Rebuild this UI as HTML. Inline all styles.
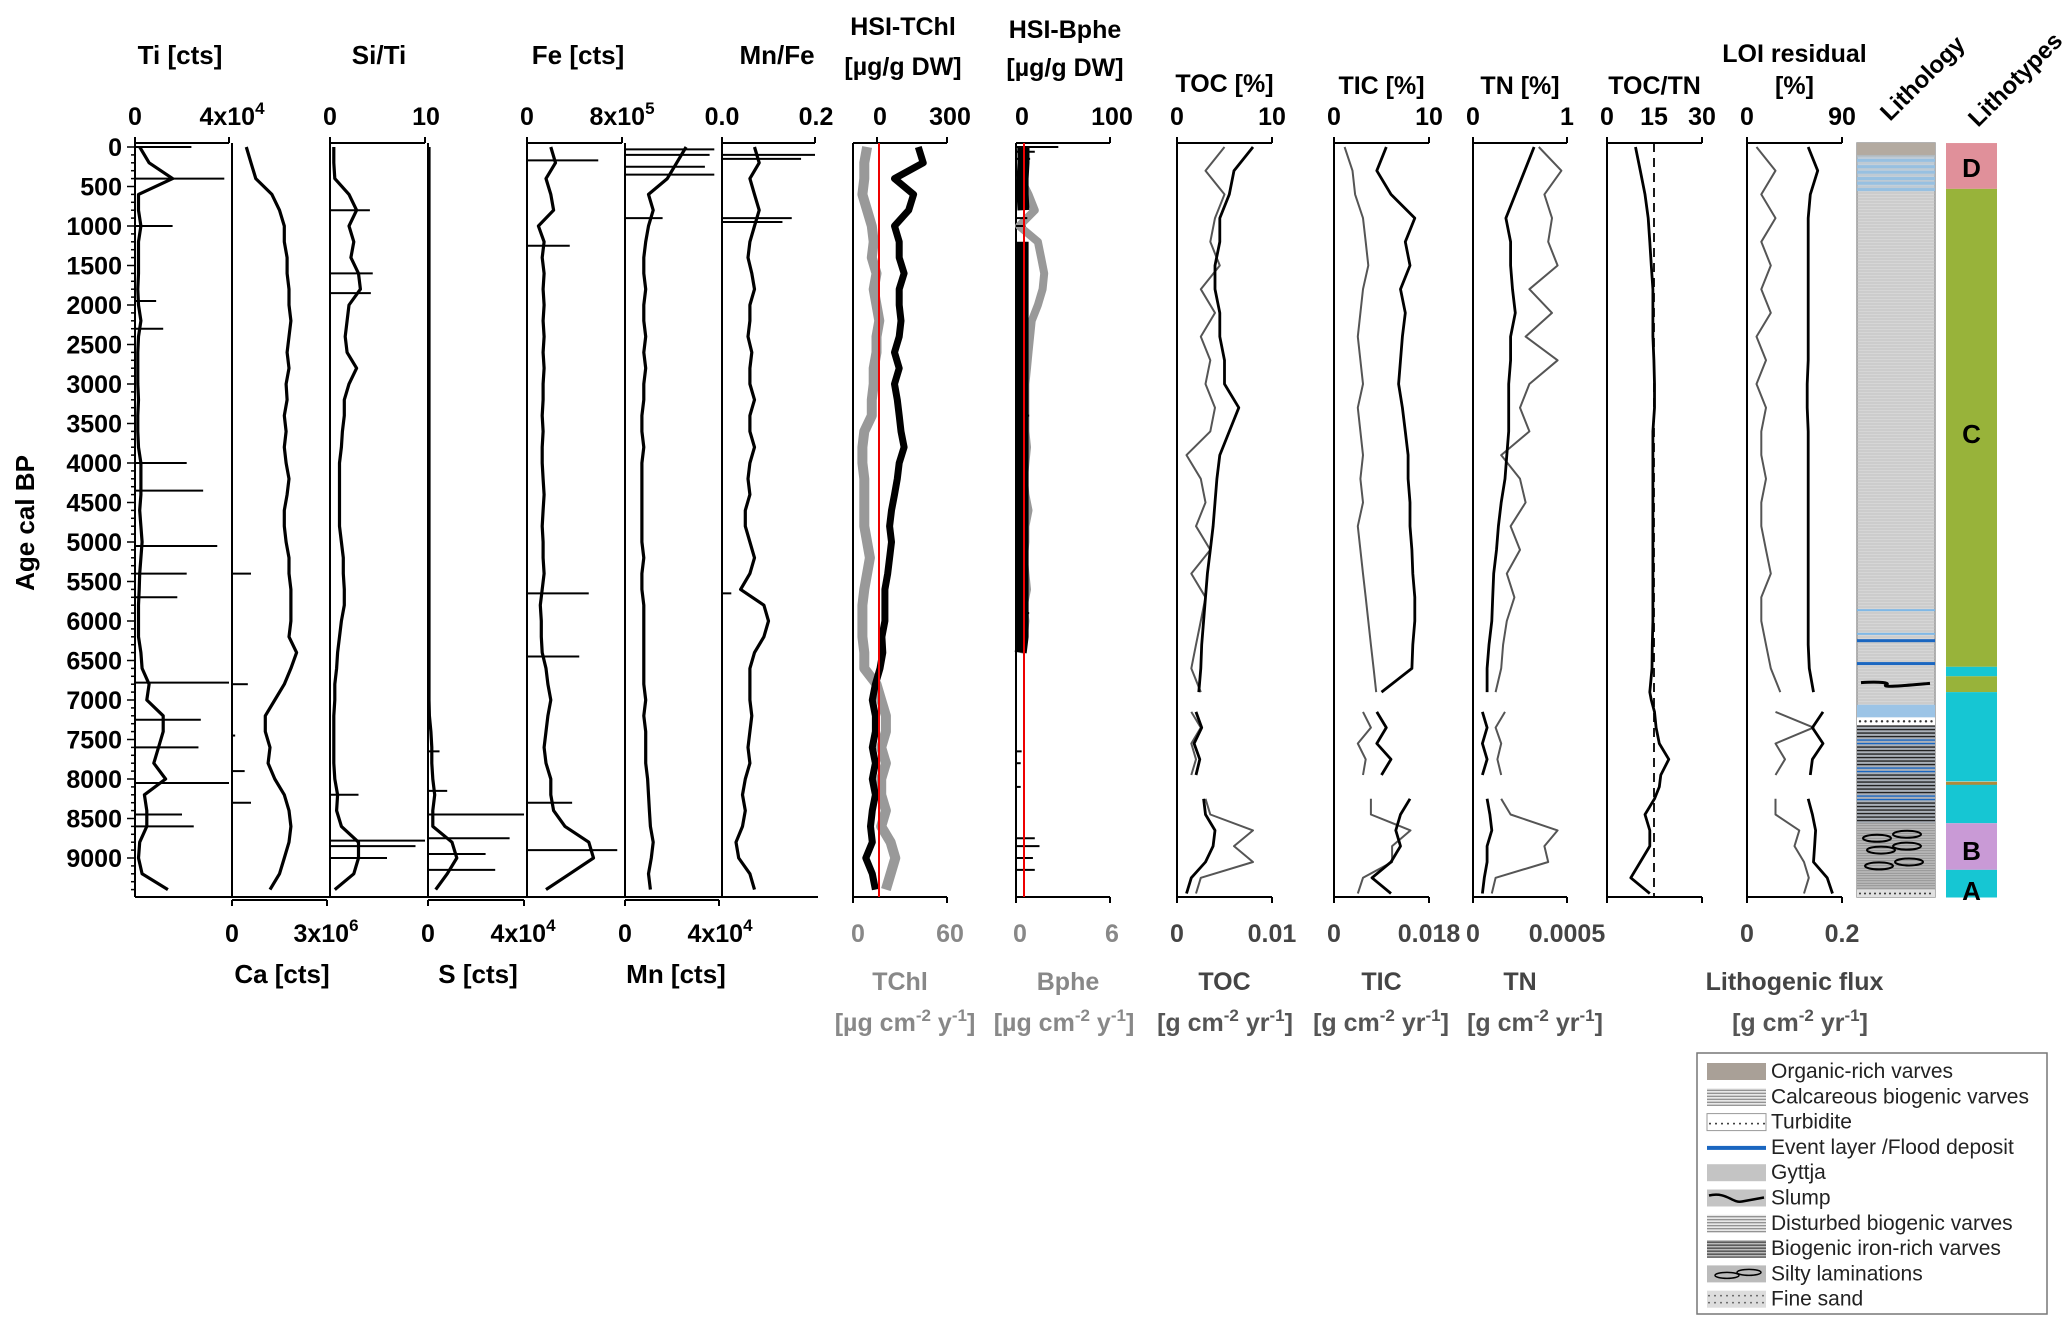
<!DOCTYPE html>
<html><head><meta charset="utf-8"><style>
html,body{margin:0;padding:0;background:#fff}
svg{display:block}
text{font-family:"Liberation Sans",Arial,sans-serif}
</style></head><body>
<svg id="chart" width="2067" height="1340" viewBox="0 0 2067 1340" xmlns="http://www.w3.org/2000/svg">
<rect x="0" y="0" width="2067" height="1340" fill="#fff"/>
<g id="root"></g>
</svg>
<script>
// ---- shared age grid (cal BP) ----
const ageGrid = [0,200,400,600,800,1000,1200,1400,1600,1800,2000,2200,2400,2600,2800,3000,3200,3400,3600,3800,4000,4200,4400,4600,4800,5000,5200,5400,5600,5800,6000,6200,6400,6600,6800,7000,7200,7400,7600,7800,8000,8200,8400,8600,8800,9000,9200,9400];
const yTicks = [0,500,1000,1500,2000,2500,3000,3500,4000,4500,5000,5500,6000,6500,7000,7500,8000,8500,9000];
// XRF series
const tiVals = [2000,6000,16000,1500,1500,2500,1500,1500,1500,1200,1500,2500,1500,1200,1200,1200,1500,1200,1200,1500,2500,2500,2500,2000,2500,3000,2500,2000,1800,1500,1500,1500,2500,3000,6000,5000,12000,12000,10000,8000,13000,4000,5000,5000,2000,1500,3000,14000];
const tiSpikeAge = [0,400,1000,1950,2300,4000,4350,5050,5400,5700,6780,7250,7600,8050,8450,8600];
const tiSpikeVal = [24000,38000,16000,9000,12000,22000,29000,35000,22000,18000,40000,28000,27000,40000,20000,25000];
const caVals = [0.45e6,0.6e6,0.75e6,1.26e6,1.5e6,1.65e6,1.65e6,1.74e6,1.74e6,1.8e6,1.8e6,1.86e6,1.8e6,1.74e6,1.8e6,1.71e6,1.74e6,1.65e6,1.71e6,1.65e6,1.71e6,1.8e6,1.74e6,1.65e6,1.65e6,1.71e6,1.8e6,1.8e6,1.86e6,1.86e6,1.86e6,1.8e6,2.04e6,1.86e6,1.65e6,1.35e6,1.05e6,1.05e6,1.2e6,1.14e6,1.35e6,1.65e6,1.8e6,1.86e6,1.8e6,1.65e6,1.5e6,1.2e6];
const caSpikeAge = [5400,6800,7450,7900,8300];
const caSpikeVal = [0.6e6,0.5e6,0.1e6,0.4e6,0.6e6];
const siTiVals = [0.4,0.4,0.5,2.0,2.8,2.0,2.5,2.2,3.0,3.2,2.0,1.8,1.6,1.8,2.8,2.0,1.5,1.5,1.3,1.2,1.0,1.0,1.0,1.0,1.0,1.2,1.4,1.4,1.5,1.5,1.2,1.0,0.8,0.7,0.5,0.5,0.4,0.4,0.4,0.4,0.5,0.8,0.7,1.2,3.0,3.0,2.5,0.5];
const siTiSpikeAge = [800,1600,1850,8200,8780,8850,9000];
const siTiSpikeVal = [4.2,4.5,4.3,3.0,10,9,6];
const sVals = [400,400,400,400,400,400,400,400,400,400,400,400,400,400,400,400,400,400,400,400,400,400,400,400,400,400,400,400,400,400,400,400,400,400,400,400,600,1200,1600,1600,2000,2800,2000,2000,10000,12000,8000,3200];
const sSpikeAge = [7650,8150,8450,8750,8950,9150];
const sSpikeVal = [4800,8000,40000,34000,24000,28000];
const feVals = [2.0e5,2.4e5,1.6e5,2.0e5,2.24e5,0.96e5,1.44e5,1.28e5,1.44e5,1.36e5,1.44e5,1.36e5,1.44e5,1.36e5,1.44e5,1.36e5,1.36e5,1.28e5,1.36e5,1.28e5,1.28e5,1.36e5,1.44e5,1.36e5,1.28e5,1.36e5,1.36e5,1.44e5,1.28e5,1.12e5,1.2e5,1.2e5,1.28e5,1.6e5,1.76e5,2.0e5,1.76e5,1.6e5,1.44e5,1.6e5,2.0e5,2.0e5,2.24e5,3.2e5,5.2e5,5.6e5,3.6e5,1.6e5];
const feSpikeAge = [170,1250,5650,6450,8300,8900];
const feSpikeVal = [6.0e5,3.6e5,5.2e5,4.4e5,3.8e5,7.6e5];
const mnVals = [26000,22000,18000,10000,12000,10000,8800,8000,8000,8800,8000,8000,8800,8000,8800,8000,8000,7200,7200,8000,7200,7200,7200,7200,7200,7200,8000,7200,7200,8000,8000,8000,8000,8000,8000,8800,8000,8800,8800,8800,9600,10000,10400,10800,12000,11200,10000,10800];
const mnSpikeAge = [30,100,250,350,900];
const mnSpikeVal = [38000,36000,34000,38000,16000];
const mnFeVals = [0.07,0.08,0.06,0.07,0.08,0.07,0.06,0.056,0.064,0.07,0.06,0.06,0.056,0.064,0.06,0.06,0.07,0.06,0.06,0.07,0.06,0.056,0.06,0.05,0.05,0.06,0.07,0.06,0.04,0.09,0.1,0.09,0.07,0.06,0.06,0.06,0.064,0.06,0.056,0.06,0.05,0.044,0.05,0.044,0.03,0.036,0.06,0.07];
const mnFeSpikeAge = [100,150,900,950,5650];
const mnFeSpikeVal = [0.2,0.17,0.15,0.13,0.02];
// HSI series
const tchlHsiVals = [177,198,75,157,136,75,95,95,116,95,95,103,95,75,95,75,87,95,103,116,95,87,75,62,54,62,54,46,34,34,34,21,25,13,-7,-20,-7,-7,-20,-7,-20,-7,-20,-28,-20,-48,-20,-7];
const tchlFluxVals = [9,7.2,7.2,6,9,12,13.2,12,15,13.2,15,16.8,15,15,13.2,13.2,12,12,7.2,6,6,7.2,7.2,7.2,7.2,9,10.8,9,7.2,6,6,6,7.2,7.2,15,18,21,21,18,21,18,18,21,18,24,27,24,21];
const bpheHsiVals = [8,8,7,7,8,null,7,7,7,7,7,7,7,7,7,7,7,7,7,7,7,7,7,7,7,7,7,7,7,7,7,7,5,null,null,null,null,null,null,null,null,null,null,null,null,null,null,null];
const bpheFluxVals = [0.3,0.4,0.3,0.8,1.2,0.2,1.4,1.6,1.8,1.7,1.4,1.0,0.9,0.8,0.7,0.6,0.6,0.6,0.6,0.7,0.6,0.5,0.6,0.8,0.6,0.6,0.5,0.6,0.7,0.5,0.6,0.5,0.2,null,null,null,null,null,null,null,null,null,null,null,null,null,null,null];
const bpheSpikeAge = [0,60,150,350,900,1000,1800,2300,3400,4200,5300,5900,7650,7800,8100,8750,8850,9000,9150];
const bpheSpikeVal = [45,20,15,10,12,10,6,12,14,8,12,14,6,5,5,20,25,18,20];
// Lab series
const labAge = [0,300,600,900,1200,1500,1800,2100,2400,2700,3000,3300,3600,3900,4200,4500,4800,5100,5400,5700,6000,6300,6600,6900,7000,7150,7350,7550,7750,7950,8100,8250,8450,8650,8850,9050,9250,9450];
const tocVals = [8,6,5.5,4.5,4.5,4,4,4.5,4.5,5,5,6.5,5.5,4.5,4.2,4,3.8,3.5,3.2,3,2.8,2.6,2.5,2.3,null,2,2.6,1.8,2.4,2,null,2.8,3,4,3.8,3,1.5,1];
const tocFluxVals = [0.005,0.003,0.005,0.004,0.0035,0.0045,0.0025,0.004,0.0025,0.0035,0.003,0.004,0.0035,0.001,0.0025,0.003,0.002,0.0035,0.0015,0.003,0.0025,0.002,0.0015,0.0025,null,0.0015,0.0025,0.0015,0.002,0.0015,null,0.003,0.0035,0.008,0.006,0.008,0.0025,0.002];
const ticVals = [5.5,4.5,6,8.5,7.5,8,7,7.5,7.2,7,6.8,7.2,7.5,7.8,7.8,8,8,8.2,8.3,8.5,8.5,8.3,8.2,5,null,4.5,5.5,4.5,6,5,null,8,7,6.5,7,6,4,6];
const ticFluxVals = [0.002,0.0035,0.004,0.0055,0.006,0.0065,0.0055,0.005,0.0045,0.005,0.0055,0.0045,0.005,0.0055,0.005,0.0055,0.0045,0.005,0.0055,0.006,0.0065,0.007,0.0075,0.008,null,0.0055,0.007,0.0045,0.006,0.0055,null,0.007,0.007,0.0145,0.011,0.011,0.0055,0.0045];
const tnVals = [0.65,0.55,0.45,0.35,0.4,0.4,0.42,0.45,0.4,0.4,0.38,0.38,0.38,0.36,0.34,0.3,0.27,0.25,0.22,0.21,0.2,0.17,0.15,0.15,null,0.1,0.15,0.1,0.15,0.1,null,0.15,0.18,0.2,0.15,0.15,0.12,0.1];
const tnFluxVals = [0.00035,0.00047,0.00038,0.00042,0.0004,0.00045,0.0003,0.00042,0.00028,0.00045,0.0003,0.00025,0.0003,0.00015,0.00025,0.00028,0.0002,0.00025,0.00018,0.00022,0.00018,0.00016,0.00015,0.00012,null,0.00017,0.00012,0.00015,0.00013,0.00015,null,0.00015,0.0002,0.00045,0.00038,0.0004,0.00012,0.0001];
const tocTnVals = [9,10.5,12,13,13.5,14,14.5,14.5,14.5,14.8,15,15,14.5,14.5,14.5,14.5,14.5,14.5,14.5,14.5,14.5,14.3,14.2,13.5,14,15,15.5,16.5,19.5,17,16.5,15,12,13.5,13.5,10.5,7.5,13.5];
const loiVals = [58,67,60,58,58,58,58,58,58,58,57,57,58,58,58,58,58,58,58,58,58,58,59,63,null,72,62,72,62,60,null,58,62,65,64,63,76,81];
const loiFluxVals = [0.02,0.06,0.03,0.06,0.03,0.05,0.03,0.05,0.02,0.04,0.02,0.04,0.03,0.03,0.04,0.03,0.03,0.04,0.05,0.03,0.03,0.04,0.05,0.07,null,0.06,0.14,0.06,0.08,0.06,null,0.06,0.06,0.11,0.1,0.12,0.13,0.12];
// Lithotype units (age boundaries)
const unitNames = ['D','C','A','C','A','A','B','A'];
const unitTop = [-50,530,6580,6700,6900,8060,8560,9150];
const unitBot = [530,6580,6700,6900,8030,8560,9150,9500];

// ---------- drawing ----------
const NS='http://www.w3.org/2000/svg';
const root=document.getElementById('root');
const Y0=147, PY=0.079, TOP=143, BOT=897;
function yOf(a){return Y0+a*PY;}
function mk(tag,attrs,parent){const e=document.createElementNS(NS,tag);for(const k in attrs)e.setAttribute(k,attrs[k]);(parent||root).appendChild(e);return e;}
function txt(x,y,s,size,anchor,fill,weight){const t=mk('text',{x:x,y:y,'font-size':size,'text-anchor':anchor||'middle','font-weight':weight||'bold',fill:fill||'#000'});t.textContent=s;return t;}
function supTxt(x,y,base,sup,anchor,fill){const t=mk('text',{x:x,y:y,'font-size':25,'text-anchor':anchor||'middle','font-weight':'bold',fill:fill||'#000'});
  const a=mk('tspan',{},t);a.textContent=base;const b=mk('tspan',{dy:-11,'font-size':17},t);b.textContent=sup;return t;}
function xScale(x0,w,mn,mx){return v=>x0+(v-mn)/(mx-mn)*w;}
function series(ages,vals,sx,color,width,name){
  let d='',pen=false;
  for(let i=0;i<ages.length;i++){const v=vals[i];if(v===null||v===undefined){pen=false;continue;}
    d+=(pen?'L':'M')+sx(v).toFixed(1)+' '+yOf(ages[i]).toFixed(1);pen=true;}
  const p=mk('path',{d:d,fill:'none',stroke:color,'stroke-width':width,'stroke-linejoin':'round'});
  
  
  return p;
}
function spikes(ages,vals,sx,base,color,name){
  const g=mk('g',{});
  
  
  for(let i=0;i<ages.length;i++){mk('line',{x1:sx(base),x2:sx(vals[i]),y1:yOf(ages[i]),y2:yOf(ages[i]),stroke:color,'stroke-width':2},g);}
}
function vline(x,y1,y2,w,c){mk('line',{x1:x,x2:x,y1:y1,y2:y2,stroke:c||'#000','stroke-width':w||2});}
function hline(x1,x2,y,w,c){mk('line',{x1:x1,x2:x2,y1:y,y2:y,stroke:c||'#000','stroke-width':w||2});}

// XRF panels
const px=[135,232,330,428,527,625,722,818];
function xrfPanel(i,ages,vals,mn,mx,top,sAge,sVal,name){
  const x0=px[i],w=px[i+1]-px[i];const sx=xScale(x0,w-3,mn,mx);
  vline(x0,TOP,BOT);
  if(top){hline(x0,x0+w-3,TOP);vline(x0,TOP-6,TOP);vline(x0+w-3,TOP-6,TOP);}
  else{hline(x0,x0+w-3,BOT+3);vline(x0,BOT+3,BOT+9);vline(x0+w-3,BOT+3,BOT+9);}
  series(ages,vals,sx,'#000',3.2,name+'-line');
  if(sAge)spikes(sAge,sVal,sx,mn,'#000',name+'-spikes');
}
xrfPanel(0,ageGrid,tiVals,0,40000,true,tiSpikeAge,tiSpikeVal,'ti');
xrfPanel(1,ageGrid,caVals,0,3e6,false,caSpikeAge,caSpikeVal,'ca');
xrfPanel(2,ageGrid,siTiVals,0,10,true,siTiSpikeAge,siTiSpikeVal,'si-ti');
xrfPanel(3,ageGrid,sVals,0,40000,false,sSpikeAge,sSpikeVal,'s');
xrfPanel(4,ageGrid,feVals,0,8e5,true,feSpikeAge,feSpikeVal,'fe');
xrfPanel(5,ageGrid,mnVals,0,40000,false,mnSpikeAge,mnSpikeVal,'mn');
xrfPanel(6,ageGrid,mnFeVals,0,0.2,true,mnFeSpikeAge,mnFeSpikeVal,'mn-fe');
hline(135,818,BOT,2);
// y axis ticks
for(let a=0;a<=9400;a+=100){const maj=a%500===0;hline(maj?127:131,135,yOf(a),1.5);}
yTicks.forEach(a=>{txt(122,yOf(a)+9,String(a),25,'end');});
const yt=txt(0,0,'Age cal BP',26,'middle');yt.setAttribute('transform','translate(34,523) rotate(-90)');

// XRF labels
[['Ti [cts]',180,64],['Si/Ti',379,64],['Fe [cts]',578,64],['Mn/Fe',777,64]].forEach(t=>txt(t[1],t[2],t[0],26));
[['Ca [cts]',282,983],['S [cts]',478,983],['Mn [cts]',676,983]].forEach(t=>txt(t[1],t[2],t[0],26));
txt(135,125,'0',25);supTxt(232,125,'4x10','4');
txt(330,125,'0',25);txt(426,125,'10',25);
txt(527,125,'0',25);supTxt(622,125,'8x10','5');
txt(722,125,'0.0',25);txt(816,125,'0.2',25);
txt(232,942,'0',25);supTxt(326,942,'3x10','6');
txt(428,942,'0',25);supTxt(523,942,'4x10','4');
txt(625,942,'0',25);supTxt(720,942,'4x10','4');

// HSI TChl
(function(){const x0=853,w=94;const sTop=xScale(877,70,0,300),sBot=xScale(x0,w,0,60);
 vline(x0,TOP,BOT);hline(x0,x0+w,TOP);vline(877,TOP-6,TOP);vline(947,TOP-6,TOP);
 hline(x0,x0+w,BOT);vline(x0,BOT,BOT+6);vline(x0+w,BOT,BOT+6);
 series(ageGrid,tchlFluxVals,sBot,'#999',10,'tchl-flux-line');
 series(ageGrid,tchlHsiVals,sTop,'#000',7,'hsi-tchl-line');
 vline(879,TOP,BOT,2,'#e00');
 txt(903,35,'HSI-TChl',25);txt(903,75,'[µg/g DW]',25);
 txt(880,125,'0',25);txt(950,125,'300',25);
 txt(858,942,'0',25,'middle','#888');txt(950,942,'60',25,'middle','#888');
 txt(900,990,'TChl',25,'middle','#888');
})();
// HSI Bphe
(function(){const x0=1016,w=94;const sTop=xScale(x0,w,0,100),sBot=xScale(x0,w,0,6);
 vline(x0,TOP,BOT);hline(x0,x0+w,TOP);vline(x0+w,TOP-6,TOP);
 hline(x0,x0+w,BOT);vline(x0,BOT,BOT+6);vline(x0+w,BOT,BOT+6);
 series(ageGrid,bpheFluxVals,sBot,'#999',8,'bphe-flux-line');
 series(ageGrid,bpheHsiVals,sTop,'#000',12,'hsi-bphe-line');
 spikes(bpheSpikeAge,bpheSpikeVal,sTop,0,'#000','bphe-spikes');
 vline(1024,TOP,BOT,2,'#e00');
 txt(1065,38,'HSI-Bphe',25);txt(1065,76,'[µg/g DW]',25);
 txt(1022,125,'0',25);txt(1112,125,'100',25);
 txt(1020,942,'0',25,'middle','#888');txt(1112,942,'6',25,'middle','#888');
 txt(1068,990,'Bphe',25,'middle','#888');
})();
// units line
(function(){const units=[[905,'[µg cm','-2',' y','-1',']','#888'],[1064,'[µg cm','-2',' y','-1',']','#888'],[1225,'[g cm','-2',' yr','-1',']','#555'],[1381,'[g cm','-2',' yr','-1',']','#555'],[1535,'[g cm','-2',' yr','-1',']','#555'],[1800,'[g cm','-2',' yr','-1',']','#555']];
 units.forEach(u=>{const t=mk('text',{x:u[0],y:1031,'font-size':25,'font-weight':'bold','text-anchor':'middle',fill:u[6]});
  
  const a=mk('tspan',{},t);a.textContent=u[1];const b=mk('tspan',{dy:-10,'font-size':17},t);b.textContent=u[2];
  const c=mk('tspan',{dy:10},t);c.textContent=u[3];const d=mk('tspan',{dy:-10,'font-size':17},t);d.textContent=u[4];
  const e=mk('tspan',{dy:10},t);e.textContent=u[5];});
})();

// Lab panels
function labPanel(x0,w,blk,bmn,bmx,gry,gmn,gmx,name,title,topL,botL,botTitle){
  const sb=xScale(x0,w,bmn,bmx);
  vline(x0,TOP,BOT);hline(x0,x0+w,TOP);vline(x0+w,TOP-6,TOP);vline(x0,TOP-6,TOP);
  hline(x0,x0+w,BOT);vline(x0,BOT,BOT+6);vline(x0+w,BOT,BOT+6);
  if(gry){series(labAge,gry,xScale(x0,w,gmn,gmx),'#555',2,name+'-flux-line');}
  series(labAge,blk,sb,'#000',2.8,name+'-line');
  title.forEach((t,i)=>txt(x0+w/2,t[1],t[0],25));
  txt(x0,125,topL[0],25);txt(x0+w,125,topL[1],25);
  if(botL){txt(x0,942,botL[0],25,'middle','#444');txt(x0+w,942,botL[1],25,'middle','#444');txt(x0+w/2,990,botTitle,25,'middle','#444');}
}
labPanel(1177,95,tocVals,0,10,tocFluxVals,0,0.01,'toc',[['TOC [%]',92]],['0','10'],['0','0.01'],'TOC');
labPanel(1334,95,ticVals,0,10,ticFluxVals,0,0.018,'tic',[['TIC [%]',94]],['0','10'],['0','0.018'],'TIC');
labPanel(1473,94,tnVals,0,1,tnFluxVals,0,0.0005,'tn',[['TN [%]',94]],['0','1'],['0','0.0005'],'TN');
labPanel(1607,95,tocTnVals,0,30,null,0,1,'toc-tn',[['TOC/TN',94]],['0','30'],null,'');
txt(1654,125,'15',25);
mk('line',{x1:1654,x2:1654,y1:TOP,y2:BOT,stroke:'#000','stroke-width':1.8,'stroke-dasharray':'9,6'});
labPanel(1747,95,loiVals,0,90,loiFluxVals,0,0.2,'loi',[['LOI residual',62],['[%]',94]],['0','90'],['0','0.2'],'Lithogenic flux');

// Lithology column
(function(){const x0=1857,w=78;const g=mk('g',{});
 
 mk('rect',{x:x0,y:TOP,width:w,height:BOT-TOP,fill:'#d6d6d6',stroke:'#999','stroke-width':1.5},g);
 for(let y=TOP+2;y<BOT;y+=3)mk('line',{x1:x0,x2:x0+w,y1:y,y2:y,stroke:'#bdbdbd','stroke-width':0.8},g);
 mk('rect',{x:x0,y:TOP,width:w,height:yOf(120)-TOP,fill:'#b3aaa0'},g);
 [150,230,300,380,440,520].forEach(a=>mk('rect',{x:x0,y:yOf(a),width:w,height:3,fill:'#7fb8e6'},g));
 mk('rect',{x:x0,y:yOf(100),width:w,height:yOf(560)-yOf(100),fill:'#b0c8dc',opacity:0.5},g);
 [5850,6150].forEach(a=>mk('rect',{x:x0,y:yOf(a),width:w,height:2,fill:'#7fb8e6'},g));
 [6230,6520].forEach(a=>mk('rect',{x:x0,y:yOf(a),width:w,height:3,fill:'#1a66c0'},g));
 mk('path',{d:`M${x0+4} ${yOf(6780)} C${x0+25} ${yOf(6760)} ${x0+32} ${yOf(6790)} ${x0+30} ${yOf(6800)} C${x0+22} ${yOf(6850)} ${x0+45} ${yOf(6820)} ${x0+73} ${yOf(6790)}`,fill:'none',stroke:'#000','stroke-width':3},g);
 mk('rect',{x:x0,y:yOf(7060),width:w,height:yOf(7220)-yOf(7060),fill:'#9cc4e6'},g);
 mk('rect',{x:x0,y:yOf(7220),width:w,height:yOf(7330)-yOf(7220),fill:'#fff'},g);
 for(let i=0;i<14;i++)mk('circle',{cx:x0+3+i*5.5,cy:yOf(7270),r:1.2,fill:'#333'},g);
 mk('rect',{x:x0,y:yOf(7330),width:w,height:yOf(8560)-yOf(7330),fill:'#aab0b8'},g);
 for(let y=yOf(7330);y<yOf(8560);y+=3.5)mk('line',{x1:x0,x2:x0+w,y1:y,y2:y,stroke:(Math.round(y)%4===0)?'#1a66c0':'#222','stroke-width':1.4},g);
 mk('rect',{x:x0,y:yOf(8560),width:w,height:yOf(9400)-yOf(8560),fill:'#b9b9b9'},g);
 for(let y=yOf(8560);y<yOf(9400);y+=2.5)mk('line',{x1:x0,x2:x0+w,y1:y,y2:y,stroke:'#8a8a8a','stroke-width':0.7},g);
 [[8750,20],[8700,50],[8900,24],[8850,50],[9100,22],[9050,52]].forEach(e=>mk('ellipse',{cx:x0+e[1],cy:yOf(e[0]),rx:14,ry:3.5,fill:'none',stroke:'#000','stroke-width':2},g));
 mk('rect',{x:x0,y:yOf(9400),width:w,height:BOT-yOf(9400),fill:'#e0e0e0'},g);
 for(let i=0;i<15;i++)mk('circle',{cx:x0+3+i*5,cy:yOf(9450),r:1,fill:'#333'},g);
})();
// Lithotypes
(function(){const x0=1946,w=51;const col={A:'#16c6d3',B:'#c99ad6',C:'#98b33a',D:'#e0909a'};
 for(let i=0;i<unitNames.length;i++){const r=mk('rect',{x:x0,y:Math.max(TOP,yOf(unitTop[i])),width:w,height:yOf(unitBot[i])-Math.max(TOP,yOf(unitTop[i])),fill:col[unitNames[i]]});
  }
 mk('rect',{x:x0,y:yOf(8035),width:w,height:3,fill:'#b08a3a'});
 [['D',167],['C',433],['B',850],['A',890]].forEach(l=>txt(x0+w/2,l[1]+10,l[0],26));
})();
const lt1=txt(0,0,'Lithology',24,'start');lt1.setAttribute('transform','translate(1890,122) rotate(-45)');
const lt2=txt(0,0,'Lithotypes',24,'start');lt2.setAttribute('transform','translate(1978,128) rotate(-45)');

// Legend
(function(){const g=mk('g',{});
 mk('rect',{x:1697,y:1053,width:350,height:261,fill:'#fff',stroke:'#777','stroke-width':1.5},g);
 const items=['Organic-rich varves','Calcareous biogenic varves','Turbidite','Event layer /Flood deposit','Gyttja','Slump','Disturbed biogenic varves','Biogenic iron-rich varves','Silty laminations','Fine sand'];
 items.forEach((s,i)=>{const y=1063+i*25.3;const sx=1707,sw=59;
  if(i===0)mk('rect',{x:sx,y:y,width:sw,height:17,fill:'#a9a097'},g);
  else if(i===1||i===6||i===7){mk('rect',{x:sx,y:y,width:sw,height:17,fill:i===7?'#bbb':'#e8e8e8'},g);for(let k=0;k<6;k++)mk('line',{x1:sx,x2:sx+sw,y1:y+2+k*3,y2:y+2+k*3,stroke:i===7?'#222':'#777','stroke-width':1},g);}
  else if(i===2){mk('rect',{x:sx,y:y,width:sw,height:17,fill:'#fff',stroke:'#999'},g);for(let k=0;k<10;k++)mk('circle',{cx:sx+3+k*6,cy:y+10,r:1,fill:'#333'},g);}
  else if(i===3)mk('rect',{x:sx,y:y+7,width:sw,height:4,fill:'#1a66c0'},g);
  else if(i===4)mk('rect',{x:sx,y:y,width:sw,height:17,fill:'#c4c4c4'},g);
  else if(i===5){mk('rect',{x:sx,y:y,width:sw,height:17,fill:'#c4c4c4'},g);mk('path',{d:`M${sx+2} ${y+6} C${sx+20} ${y+2} ${sx+25} ${y+14} ${sx+35} ${y+12} L${sx+57} ${y+8}`,fill:'none',stroke:'#000','stroke-width':2.5},g);}
  else if(i===8){mk('rect',{x:sx,y:y,width:sw,height:17,fill:'#bbb'},g);mk('ellipse',{cx:sx+20,cy:y+10,rx:12,ry:3,fill:'none',stroke:'#000','stroke-width':1.5},g);mk('ellipse',{cx:sx+42,cy:y+7,rx:12,ry:3,fill:'none',stroke:'#000','stroke-width':1.5},g);}
  else {mk('rect',{x:sx,y:y,width:sw,height:17,fill:'#ddd'},g);for(let k=0;k<20;k++)mk('circle',{cx:sx+2+(k%10)*6,cy:y+5+Math.floor(k/10)*7,r:0.9,fill:'#555'},g);}
  const t=txt(1771,y+15,s,21,'start','#222','normal');
 });
})();
</script>
</body></html>
